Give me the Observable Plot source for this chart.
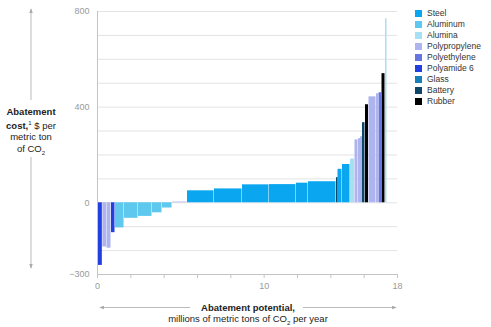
<!DOCTYPE html>
<html><head><meta charset="utf-8">
<script src="https://cdn.jsdelivr.net/npm/d3@7"></script>
<script src="https://cdn.jsdelivr.net/npm/@observablehq/plot@0.6"></script>
<style>
body{margin:0;background:#fff;font-family:"Liberation Sans",Arial,sans-serif;}
#wrap{position:relative;width:491px;height:327px;overflow:hidden;}
#wrap svg{position:absolute;left:0;top:0;}
.legend{position:absolute;left:415px;top:8px;font-size:8.5px;color:#333;}
.legend .row{height:11px;line-height:11px;display:flex;align-items:center;white-space:nowrap;}
.legend .sw{width:7px;height:7px;margin-right:5px;}
.ytitle{position:absolute;left:0;width:62px;top:106px;text-align:center;font-size:9.5px;line-height:11.5px;color:#222;}
.xtitle{position:absolute;left:148px;width:200px;top:302px;text-align:center;font-size:9.5px;line-height:11px;color:#222;}
b{font-weight:bold;}
</style></head><body><div id="wrap"></div>
<script>
const categories = ["Steel","Aluminum","Alumina","Polypropylene","Polyethylene","Polyamide 6","Glass","Battery","Rubber"];
const categoryColors = ["#0aa6ef","#5ec8ee","#a7dff3","#adb4ee","#6675df","#2240df","#1780b8","#0d4668","#000000"];

// bars in merit order: category, abatement potential (width, Mt CO2/yr), abatement cost ($/t CO2)
const barCategory = ["Polyamide 6","Polypropylene","Polypropylene","Polyamide 6","Aluminum","Aluminum","Aluminum","Aluminum","Aluminum","Polypropylene",
  "Steel","Steel","Steel","Steel","Steel","Steel","Battery","Steel","Steel","Alumina",
  "Polypropylene","Polypropylene","Polypropylene","Battery","Rubber","Polypropylene","Polypropylene","Polyethylene","Rubber","Alumina"];
const barPotential = [0.32,0.25,0.27,0.24,0.54,0.84,0.84,0.60,0.60,0.90,
  1.62,1.68,1.62,1.62,0.72,1.68,0.09,0.27,0.48,0.27,
  0.21,0.12,0.12,0.18,0.21,0.45,0.15,0.18,0.21,0.09];
const barCost = [-262,-185,-190,-125,-105,-65,-57,-42,-22,3,
  50,58,75,76,82,88,105,140,160,183,
  263,268,276,335,410,443,456,460,540,770];

const yTickLabels = [800,400,0,-300];
const yGrid = [-200,-100,0,100,200,300,400,500,600,700,800];
const xTicks = [0,2,4,6,8,10,12,14,16,18];
const xTickLabels = [0,10,18];

const ends = d3.cumsum(barPotential);
const bars = barCost.map((c,i)=>({
  category: barCategory[i],
  x1: i===0?0:ends[i-1],
  x2: ends[i],
  base: 0,
  cost: c,
  wide: barPotential[i] >= 0.15
}));

const chart = Plot.plot({
  width: 491, height: 327,
  marginLeft: 97, marginRight: 94, marginTop: 11, marginBottom: 53,
  style: {fontFamily: '"Liberation Sans",Arial,sans-serif', fontSize: "9px", color: "#9a9a9a", background: "transparent"},
  x: {domain: [0,18], label: null},
  y: {domain: [-300,800], label: null},
  color: {domain: categories, range: categoryColors},
  marks: [
    Plot.ruleY(yGrid, {stroke: "#e3e3e3", strokeWidth: 1}),
    Plot.rect(bars.filter(d => d.wide), {x1: "x1", x2: "x2", y1: "base", y2: "cost", fill: "category", insetRight: 0.5}),
    Plot.rect(bars.filter(d => !d.wide), {x1: "x1", x2: "x2", y1: "base", y2: "cost", fill: "category"}),
    Plot.ruleY([-300], {stroke: "#c4c4c4"}),
    Plot.ruleX([0], {stroke: "#c4c4c4"}),
    Plot.axisX({ticks: xTicks, tickSize: 4, tickPadding: 4, stroke: "#c4c4c4", fill: "#9a9a9a",
      tickFormat: d => xTickLabels.includes(d) ? String(d) : "", label: null}),
    Plot.axisY({ticks: yTickLabels, tickSize: 0, tickPadding: 8, fill: "#9a9a9a", label: null,
      tickFormat: d => d < 0 ? "\u2212" + Math.abs(d) : String(d)})
  ]
});

const wrap = document.getElementById("wrap");
wrap.appendChild(chart);

// axis title arrows
const svg = d3.select(chart);
const defs = svg.append("defs");
defs.append("marker").attr("id","ah").attr("viewBox","0 0 6 6").attr("refX",5).attr("refY",3)
  .attr("markerWidth",5).attr("markerHeight",5).attr("orient","auto-start-reverse")
  .append("path").attr("d","M0,0.8L6,3L0,5.2Z").attr("fill","#aaa");
const g = svg.append("g").attr("stroke","#bbb").attr("stroke-width",1);
g.append("line").attr("x1",31).attr("x2",31).attr("y1",100).attr("y2",9).attr("marker-end","url(#ah)");
g.append("line").attr("x1",31).attr("x2",31).attr("y1",157).attr("y2",268).attr("marker-end","url(#ah)");
g.append("line").attr("x1",190).attr("x2",100).attr("y1",307.5).attr("y2",307.5).attr("marker-end","url(#ah)");
g.append("line").attr("x1",303).attr("x2",396).attr("y1",307.5).attr("y2",307.5).attr("marker-end","url(#ah)");

// titles
const yt = document.createElement("div");
yt.className = "ytitle";
yt.innerHTML = "<b>Abatement<br>cost,</b><sup style='font-size:6px'>1</sup> $ per<br>metric ton<br>of CO<sub style='font-size:6px'>2</sub>";
wrap.appendChild(yt);
const xt = document.createElement("div");
xt.className = "xtitle";
xt.innerHTML = "<b style='background:#fff;padding:0 4px'>Abatement potential,</b><br>millions of metric tons of CO<sub style='font-size:6px'>2</sub> per year";
wrap.appendChild(xt);

// legend
const lg = document.createElement("div");
lg.className = "legend";
categories.forEach((c,i)=>{
  const r = document.createElement("div"); r.className = "row";
  const s = document.createElement("div"); s.className = "sw"; s.style.background = categoryColors[i];
  const t = document.createElement("span"); t.textContent = c;
  r.appendChild(s); r.appendChild(t); lg.appendChild(r);
});
wrap.appendChild(lg);
</script></body></html>
